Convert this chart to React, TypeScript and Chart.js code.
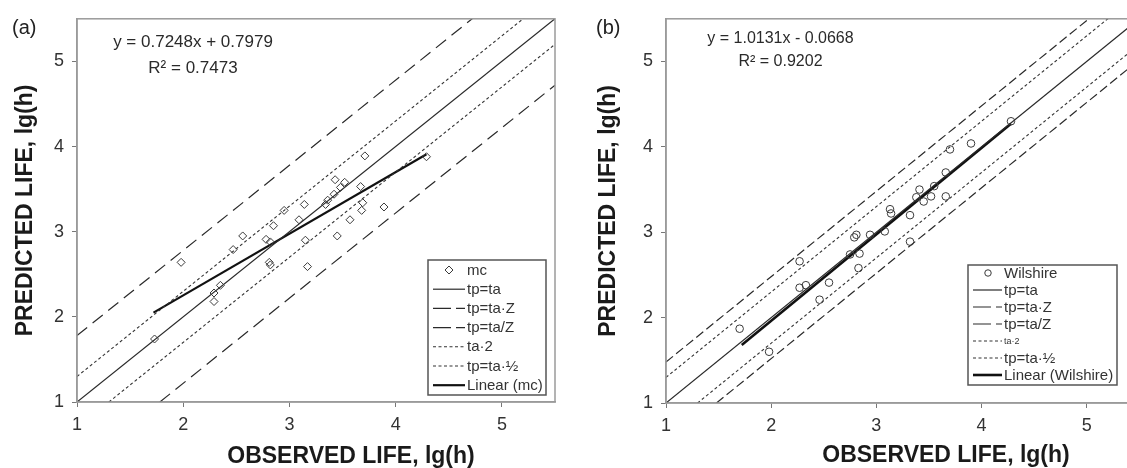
import React, { useEffect, useRef } from 'react';
import { Chart, registerables } from 'chart.js';

Chart.register(...registerables);

const FONT = "'Liberation Sans', Arial, Helvetica, sans-serif";

// ---------- axes ----------
const xTicks = [1, 2, 3, 4, 5];
const yTicks = [1, 2, 3, 4, 5];
const AXIS_MIN = 1;
const AXIS_MAX = 5.5;
const xTitle = 'OBSERVED LIFE, lg(h)';
const yTitle = 'PREDICTED LIFE, lg(h)';

// ---------- panel (a): mc ----------
const mcObserved = [
  1.73, 1.98, 2.29, 2.35, 2.29, 2.47, 2.56, 2.78, 2.82, 2.81, 2.82, 2.85, 2.95, 3.09, 3.14,
  3.15, 3.17, 3.34, 3.36, 3.42, 3.43, 3.48, 3.52, 3.45, 3.57, 3.67, 3.69, 3.68, 3.71, 3.89, 4.29,
];
const mcPredicted = [
  1.74, 2.64, 2.28, 2.37, 2.18, 2.79, 2.95, 2.91, 2.88, 2.64, 2.61, 3.07, 3.25, 3.14, 3.32,
  2.9, 2.59, 3.32, 3.37, 3.44, 3.61, 3.52, 3.58, 2.95, 3.14, 3.53, 3.34, 3.25, 3.89, 3.29, 3.88,
];
const mcFitX = [1.72, 4.29];
const mcFitY = [2.05, 3.91];
const mcEquation = 'y = 0.7248x + 0.7979';
const mcR2 = 'R² = 0.7473';
const mcLabels = ['mc', 'tp=ta', 'tp=ta·Z', 'tp=ta/Z', 'ta·2', 'tp=ta·½', 'Linear (mc)'];

// reference lines (a)
const oneToOneX = [1, 5.5];
const oneToOneY = [1, 5.5];
const aZUpperX = [1, 5.5];
const aZUpperY = [1.78, 6.28];
const aZLowerX = [1.78, 5.5];
const aZLowerY = [1, 4.72];
const twoUpperX = [1, 5.5];
const twoUpperY = [1.3, 5.8];
const twoLowerX = [1.3, 5.5];
const twoLowerY = [1, 5.2];

// ---------- panel (b): Wilshire ----------
const wilObserved = [
  1.7, 1.98, 2.27, 2.27, 2.33, 2.55, 2.46, 2.75, 2.84, 2.83, 2.79, 2.81, 2.94, 3.08, 3.13,
  3.14, 3.32, 3.32, 3.38, 3.41, 3.45, 3.52, 3.55, 3.66, 3.66, 3.7, 3.9, 4.28,
];
const wilPredicted = [
  1.87, 1.6, 2.66, 2.35, 2.38, 2.41, 2.21, 2.74, 2.75, 2.58, 2.94, 2.97, 2.97, 3.01, 3.27,
  3.22, 3.2, 2.89, 3.41, 3.5, 3.36, 3.42, 3.54, 3.42, 3.7, 3.97, 4.04, 4.3,
];
const wilFitX = [1.72, 4.28];
const wilFitY = [1.68, 4.27];
const wilEquation = 'y = 1.0131x - 0.0668';
const wilR2 = 'R² = 0.9202';
const wilLabels = ['Wilshire', 'tp=ta', 'tp=ta·Z', 'tp=ta/Z', 'ta·2', 'tp=ta·½', 'Linear (Wilshire)'];

const bZUpperX = [1, 5.5];
const bZUpperY = [1.48, 5.98];
const bZLowerX = [1.48, 5.5];
const bZLowerY = [1, 5.02];

// ---------- helpers ----------
const pts = (xs: number[], ys: number[]) => xs.map((x, i) => ({ x, y: ys[i] }));

type LineStyle = { color: string; width: number; dash: number[]; legendDash: number[] };

const lineDs = (label: string, xs: number[], ys: number[], st: LineStyle, legendFontSize?: number) => ({
  label,
  data: pts(xs, ys),
  showLine: true,
  pointRadius: 0,
  pointHoverRadius: 0,
  borderColor: st.color,
  borderWidth: st.width,
  borderDash: st.dash,
  fill: false,
  legendSample: 'line',
  legendDash: st.legendDash,
  legendFontSize,
});

const scatterDs = (label: string, xs: number[], ys: number[], style: string, radius: number) => ({
  label,
  data: pts(xs, ys),
  showLine: false,
  pointStyle: style,
  pointRadius: radius,
  pointHoverRadius: radius,
  pointBorderWidth: 1,
  borderColor: '#3a3a3a',
  backgroundColor: 'rgba(255,255,255,0)',
  legendSample: 'marker',
});

const solid: LineStyle = { color: '#2a2a2a', width: 1.2, dash: [], legendDash: [] };
const dottedStyle: LineStyle = { color: '#333', width: 1.1, dash: [3, 2.5], legendDash: [3, 2.5] };
const longDashA: LineStyle = { color: '#2a2a2a', width: 1.2, dash: [13, 7], legendDash: [18, 5] };
const longDashB: LineStyle = { color: '#2a2a2a', width: 1.2, dash: [9, 4], legendDash: [18, 5] };
const fitA: LineStyle = { color: '#111', width: 2.2, dash: [], legendDash: [] };
const fitB: LineStyle = { color: '#111', width: 2.6, dash: [], legendDash: [] };

const datasetsA = [
  scatterDs(mcLabels[0], mcObserved, mcPredicted, 'rectRot', 4),
  lineDs(mcLabels[1], oneToOneX, oneToOneY, solid),
  lineDs(mcLabels[2], aZUpperX, aZUpperY, longDashA),
  lineDs(mcLabels[3], aZLowerX, aZLowerY, longDashA),
  lineDs(mcLabels[4], twoUpperX, twoUpperY, dottedStyle),
  lineDs(mcLabels[5], twoLowerX, twoLowerY, dottedStyle),
  lineDs(mcLabels[6], mcFitX, mcFitY, fitA),
];

const datasetsB = [
  scatterDs(wilLabels[0], wilObserved, wilPredicted, 'circle', 3.8),
  lineDs(wilLabels[1], oneToOneX, oneToOneY, solid),
  lineDs(wilLabels[2], bZUpperX, bZUpperY, longDashB),
  lineDs(wilLabels[3], bZLowerX, bZLowerY, longDashB),
  lineDs(wilLabels[4], twoUpperX, twoUpperY, dottedStyle, 9),
  lineDs(wilLabels[5], twoLowerX, twoLowerY, dottedStyle),
  lineDs(wilLabels[6], wilFitX, wilFitY, fitB),
];

// ---------- layout configs ----------
type PanelCfg = {
  width: number;
  padTop: number;
  padRight: number;
  yAxisWidth: number;
  xAxisHeight: number;
  label: string;
  labelX: number;
  labelBaseline: number;
  labelSize: number;
  eq: string[];
  eqX: number;
  eqBaselines: number[];
  eqSize: number;
  yTitleX: number;
  xTitleX: number;
  xTitleBaseline: number;
  legend: {
    left: number; top: number; right: number; bottom: number;
    firstRow: number; rowH: number; x0: number; x1: number; markerX: number; textX: number; fontSize: number;
  };
};

const panelA: PanelCfg = {
  width: 560, padTop: 14, padRight: 2.6, yAxisWidth: 77, xAxisHeight: 66,
  label: '(a)', labelX: 12, labelBaseline: 34, labelSize: 20,
  eq: [mcEquation, mcR2], eqX: 193, eqBaselines: [46.5, 72.5], eqSize: 17,
  yTitleX: 26, xTitleX: 351, xTitleBaseline: 463,
  legend: { left: 428, top: 260, right: 546, bottom: 395, firstRow: 270, rowH: 19.2, x0: 433, x1: 465, markerX: 449, textX: 467, fontSize: 15 },
};

const panelB: PanelCfg = {
  width: 590, padTop: 14, padRight: 10.7, yAxisWidth: 106, xAxisHeight: 65,
  label: '(b)', labelX: 36, labelBaseline: 34, labelSize: 20,
  eq: [wilEquation, wilR2], eqX: 220.5, eqBaselines: [43.3, 65.5], eqSize: 16,
  yTitleX: 49, xTitleX: 386, xTitleBaseline: 462,
  legend: { left: 408, top: 265, right: 557, bottom: 385, firstRow: 273, rowH: 17, x0: 413, x1: 442, markerX: 428, textX: 444, fontSize: 15 },
};

const makeDecor = (cfg: PanelCfg) => ({
  id: 'decor',
  afterDatasetsDraw(chart: any) {
    const ctx = chart.ctx as CanvasRenderingContext2D;
    const L = cfg.legend;
    ctx.save();
    ctx.fillStyle = '#fff';
    ctx.fillRect(L.left, L.top, L.right - L.left, L.bottom - L.top);
    ctx.strokeStyle = '#555';
    ctx.lineWidth = 1.5;
    ctx.strokeRect(L.left, L.top, L.right - L.left, L.bottom - L.top);
    chart.data.datasets.forEach((ds: any, i: number) => {
      const y = L.firstRow + i * L.rowH;
      if (ds.legendSample === 'marker') {
        const r = ds.pointRadius;
        ctx.strokeStyle = ds.borderColor;
        ctx.lineWidth = 1;
        ctx.setLineDash([]);
        ctx.beginPath();
        if (ds.pointStyle === 'rectRot') {
          ctx.moveTo(L.markerX, y - r);
          ctx.lineTo(L.markerX + r, y);
          ctx.lineTo(L.markerX, y + r);
          ctx.lineTo(L.markerX - r, y);
          ctx.closePath();
        } else {
          ctx.arc(L.markerX, y, r * 0.85, 0, Math.PI * 2);
        }
        ctx.stroke();
      } else {
        ctx.strokeStyle = ds.borderColor;
        ctx.lineWidth = ds.borderWidth;
        ctx.setLineDash(ds.legendDash || []);
        ctx.beginPath();
        ctx.moveTo(L.x0, y);
        ctx.lineTo(L.x1, y);
        ctx.stroke();
        ctx.setLineDash([]);
      }
      ctx.fillStyle = '#333';
      ctx.font = `${ds.legendFontSize || L.fontSize}px ${FONT}`;
      ctx.textAlign = 'left';
      ctx.textBaseline = 'middle';
      ctx.fillText(ds.label, L.textX, y + 0.5);
    });
    ctx.restore();
  },
  afterDraw(chart: any) {
    const ctx = chart.ctx as CanvasRenderingContext2D;
    const a = chart.chartArea;
    ctx.save();
    // frame
    ctx.strokeStyle = '#9a9a9a';
    ctx.lineWidth = 1.5;
    ctx.strokeRect(a.left, a.top, a.right - a.left, a.bottom - a.top);
    // panel label
    ctx.fillStyle = '#222';
    ctx.textBaseline = 'alphabetic';
    ctx.textAlign = 'left';
    ctx.font = `${cfg.labelSize}px ${FONT}`;
    ctx.fillText(cfg.label, cfg.labelX, cfg.labelBaseline);
    // equation
    ctx.textAlign = 'center';
    ctx.font = `${cfg.eqSize}px ${FONT}`;
    ctx.fillStyle = '#2a2a2a';
    cfg.eq.forEach((t, i) => ctx.fillText(t, cfg.eqX, cfg.eqBaselines[i]));
    // axis titles
    ctx.fillStyle = '#1a1a1a';
    ctx.font = `bold 23px ${FONT}`;
    ctx.fillText(xTitle, cfg.xTitleX, cfg.xTitleBaseline);
    ctx.translate(cfg.yTitleX, (a.top + a.bottom) / 2);
    ctx.rotate(-Math.PI / 2);
    ctx.textBaseline = 'middle';
    ctx.fillText(yTitle, 0, 0);
    ctx.restore();
  },
});

const buildConfig = (cfg: PanelCfg, datasets: any[]): any => ({
  type: 'scatter',
  data: { datasets },
  plugins: [makeDecor(cfg)],
  options: {
    responsive: false,
    animation: false,
    devicePixelRatio: 1,
    events: [],
    layout: { padding: { top: cfg.padTop, right: cfg.padRight, left: 0, bottom: 0 } },
    plugins: { legend: { display: false }, tooltip: { enabled: false }, title: { display: false } },
    scales: {
      x: {
        type: 'linear',
        min: AXIS_MIN,
        max: AXIS_MAX,
        afterBuildTicks: (s: any) => {
          s.ticks = xTicks.map((v) => ({ value: v }));
        },
        afterFit: (s: any) => {
          s.height = cfg.xAxisHeight;
        },
        grid: { display: true, drawOnChartArea: false, drawTicks: true, tickLength: 5, color: '#777', lineWidth: 1 },
        border: { display: true, color: '#9a9a9a', width: 1.5 },
        ticks: { font: { family: FONT, size: 18 }, color: '#333', padding: 7, maxRotation: 0, autoSkip: false },
      },
      y: {
        type: 'linear',
        min: AXIS_MIN,
        max: AXIS_MAX,
        afterBuildTicks: (s: any) => {
          s.ticks = yTicks.map((v) => ({ value: v }));
        },
        afterFit: (s: any) => {
          s.width = cfg.yAxisWidth;
        },
        grid: { display: true, drawOnChartArea: false, drawTicks: true, tickLength: 5, color: '#777', lineWidth: 1 },
        border: { display: true, color: '#9a9a9a', width: 1.5 },
        ticks: { font: { family: FONT, size: 18 }, color: '#333', padding: 8, autoSkip: false },
      },
    },
  },
});

export default function App() {
  const refA = useRef<HTMLCanvasElement>(null);
  const refB = useRef<HTMLCanvasElement>(null);

  useEffect(() => {
    const charts: Chart[] = [];
    if (refA.current) charts.push(new Chart(refA.current, buildConfig(panelA, datasetsA)));
    if (refB.current) charts.push(new Chart(refB.current, buildConfig(panelB, datasetsB)));
    return () => charts.forEach((c) => c.destroy());
  }, []);

  return (
    <div
      style={{
        position: 'absolute',
        left: 0,
        top: 0,
        width: 1127,
        height: 468,
        overflow: 'hidden',
        background: '#fff',
      }}
    >
      <canvas
        ref={refA}
        width={panelA.width}
        height={468}
        style={{ position: 'absolute', left: 0, top: 0, width: panelA.width, height: 468, display: 'block' }}
      />
      <canvas
        ref={refB}
        width={panelB.width}
        height={468}
        style={{ position: 'absolute', left: 560, top: 0, width: panelB.width, height: 468, display: 'block' }}
      />
    </div>
  );
}
